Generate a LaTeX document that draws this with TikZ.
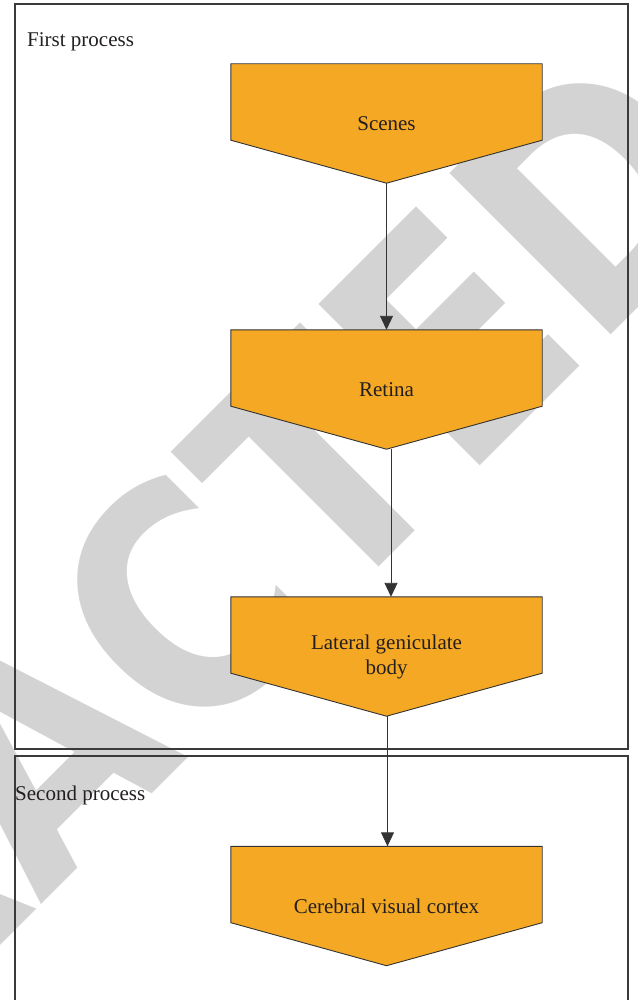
\documentclass[tikz,border=0pt]{standalone}
\usepackage{fontspec}
\setmainfont{Liberation Serif}
\newfontfamily\stampfont[FakeStretch=0.87]{DejaVu Sans}
\usetikzlibrary{arrows.meta,backgrounds,calc}

\definecolor{boxorange}{HTML}{F5A823}
\definecolor{edgegrey}{HTML}{333333}
\definecolor{framegrey}{HTML}{3A3A3A}
\definecolor{stampgrey}{HTML}{D3D3D3}
\definecolor{inktext}{HTML}{231F20}

\tikzset{
  stagebox/.style={minimum width=311pt, minimum height=119pt, inner sep=0pt,
    align=center, text=inktext, font=\fontsize{21}{25}\selectfont},
  stagefill/.style={fill=boxorange, draw=edgegrey, line width=0.9pt, line join=miter},
  frameline/.style={draw=framegrey, line width=1.2pt},
  caption/.style={anchor=base west, inner sep=0pt, text=inktext, font=\fontsize{21}{25}\selectfont},
  flow/.style={draw=edgegrey, line width=0.9pt, -{Triangle[length=14pt,width=13pt]}},
}

\begin{document}
\begin{tikzpicture}[x=1pt, y=-1pt]
\useasboundingbox (0,0) rectangle (637,1000);
\clip (0,0) rectangle (637,1000);

% stages of the visual pathway
\node[stagebox] (scenes) at (386.5,123.5) {Scenes};
\node[stagebox] (retina) at (386.5,389.5) {Retina};
\node[stagebox] (lgb)    at (386.5,656.5) {Lateral geniculate\\body};
\node[stagebox] (cortex) at (386.5,906)   {Cerebral visual cortex};

\begin{scope}[on background layer]
  % diagonal stamp across the sheet
  \node[rotate=45, anchor=base east, inner sep=0pt, text=stampgrey,
        font=\stampfont\bfseries\fontsize{313}{313}\selectfont]
        (stamp) at (754,192) {RETRACTED};
  % down-pointing pentagons behind the stage labels
  \foreach \n in {scenes,retina,lgb,cortex}{
    \path[stagefill] (\n.north west) -- (\n.north east)
      -- ([yshift=43pt]\n.south east) -- (\n.south)
      -- ([yshift=43pt]\n.south west) -- cycle;
  }
\end{scope}

% process frames
\path[frameline] (15,4) rectangle (628,749);
\path[frameline] (15,756) rectangle (628,1010);
\node[caption] (first)  at (27,47)  {First process};
\node[caption] (second) at (15,800) {Second process};

% connectors
\draw[flow] (scenes.south) -- (retina.north);
\draw[flow] ([xshift=4.5pt]retina.south) -- ([xshift=4.5pt]lgb.north);
\draw[flow] ([xshift=1pt]lgb.south) -- ([xshift=1pt]cortex.north);
\end{tikzpicture}
\end{document}
